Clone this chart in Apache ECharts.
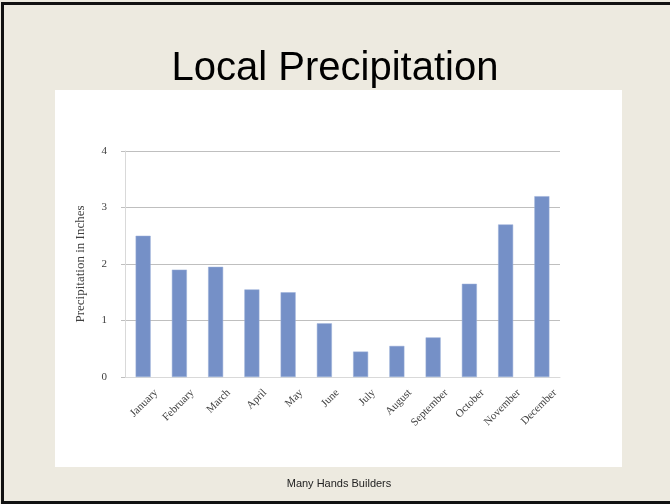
<!DOCTYPE html>
<html>
<head>
<meta charset="utf-8">
<script src="https://cdn.jsdelivr.net/npm/echarts@6/dist/echarts.min.js"></script>
<style>
html,body{margin:0;padding:0;background:#EDEAE0;}
#chart{width:670px;height:504px;}
</style>
</head>
<body>
<div id="chart"></div>
<script>
const months = ['January','February','March','April','May','June','July','August','September','October','November','December'];
const precipitation = [2.5, 1.9, 1.95, 1.55, 1.5, 0.95, 0.45, 0.55, 0.7, 1.65, 2.7, 3.2];
const yTicks = [0, 1, 2, 3, 4];
const titleText = 'Local Precipitation';
const yAxisTitle = 'Precipitation in Inches';
const footerText = 'Many Hands Builders';

const chart = echarts.init(document.getElementById('chart'));
chart.setOption({
  backgroundColor: '#EDEAE0',
  animation: false,
  title: {
    text: titleText,
    left: 'center',
    top: 44,
    textStyle: {fontFamily: 'Liberation Sans', fontSize: 40, fontWeight: 'normal', color: '#000'}
  },
  graphic: [
    {type: 'rect', z: -100, shape: {x: 55, y: 90, width: 567, height: 377}, style: {fill: '#fff'}},
    {type: 'rect', z: 100, shape: {x: 1, y: 2, width: 3, height: 502}, style: {fill: '#111'}},
    {type: 'rect', z: 100, shape: {x: 1, y: 2, width: 669, height: 3}, style: {fill: '#111'}},
    {type: 'rect', z: 100, shape: {x: 1, y: 501, width: 669, height: 3}, style: {fill: '#111'}},
    {type: 'text', x: 339, y: 484, style: {text: footerText, fontFamily: 'Liberation Sans', fontSize: 11, fill: '#222', align: 'center', verticalAlign: 'middle'}}
  ],
  grid: {left: 125, right: 110, top: 151, bottom: 127},
  xAxis: {
    type: 'category',
    data: months,
    axisLine: {show: true, lineStyle: {color: '#D9D9D9', width: 1}},
    axisTick: {show: false},
    axisLabel: {
      interval: 0, rotate: 45, margin: 1,
      fontFamily: 'Liberation Serif', fontSize: 11, color: '#404040',
      verticalAlign: 'top', lineHeight: 37
    }
  },
  yAxis: {
    type: 'value',
    min: yTicks[0], max: yTicks[yTicks.length - 1], interval: 1,
    name: yAxisTitle,
    nameLocation: 'middle',
    nameGap: 38,
    nameTextStyle: {fontFamily: 'Liberation Serif', fontSize: 13, color: '#404040'},
    axisLine: {show: true, lineStyle: {color: '#D9D9D9', width: 1}},
    axisTick: {show: true, length: 4, lineStyle: {color: '#BFBFBF', width: 1}},
    axisLabel: {margin: 18, fontFamily: 'Liberation Serif', fontSize: 11, color: '#404040'},
    splitLine: {lineStyle: {color: '#BFBFBF', width: 1}}
  },
  series: [{
    type: 'bar',
    data: precipitation,
    barWidth: 15,
    itemStyle: {color: '#7590C7', borderColor: '#9AAED8', borderWidth: 0.5}
  }]
});
</script>
</body>
</html>
